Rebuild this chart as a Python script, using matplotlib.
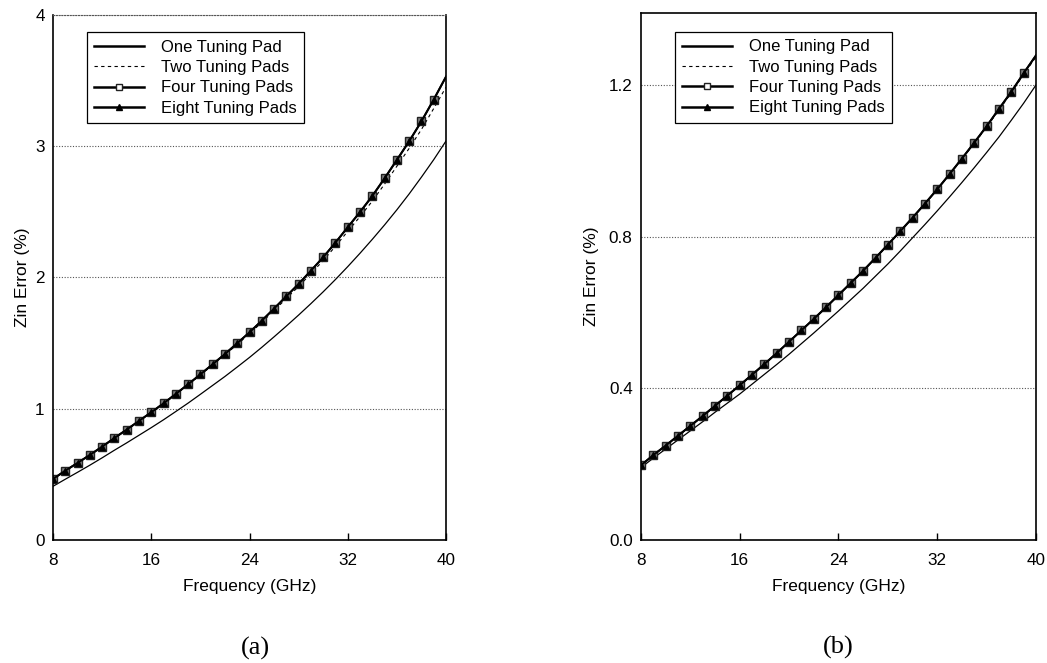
import matplotlib
matplotlib.use("Agg")
import matplotlib.pyplot as plt

plt.rcParams["font.family"] = ["Liberation Sans", "DejaVu Sans"]

FREQ = list(range(8, 41))  # GHz

# panel (a)
A_ONE = [0.409, 0.463, 0.516, 0.570, 0.626, 0.684, 0.740, 0.798, 0.856, 0.916,
         0.979, 1.043, 1.110, 1.178, 1.246, 1.318, 1.391, 1.468, 1.548, 1.630,
         1.714, 1.801, 1.891, 1.985, 2.083, 2.185, 2.291, 2.401, 2.516, 2.637,
         2.765, 2.898, 3.040]
A_TWO = [0.465, 0.528, 0.587, 0.648, 0.711, 0.777, 0.841, 0.906, 0.972, 1.039,
         1.110, 1.182, 1.257, 1.333, 1.410, 1.490, 1.571, 1.658, 1.748, 1.840,
         1.932, 2.030, 2.129, 2.238, 2.352, 2.464, 2.582, 2.712, 2.848, 2.984,
         3.128, 3.288, 3.450]
A_FOUR = [0.465, 0.528, 0.587, 0.648, 0.711, 0.777, 0.841, 0.907, 0.973, 1.041,
          1.113, 1.186, 1.262, 1.339, 1.417, 1.499, 1.582, 1.671, 1.763, 1.857,
          1.951, 2.052, 2.154, 2.266, 2.383, 2.499, 2.621, 2.756, 2.896, 3.038,
          3.190, 3.356, 3.530]
A_EIGHT = [0.465, 0.528, 0.587, 0.648, 0.711, 0.777, 0.841, 0.907, 0.973, 1.041,
           1.113, 1.186, 1.262, 1.339, 1.417, 1.499, 1.582, 1.671, 1.763, 1.857,
           1.951, 2.052, 2.154, 2.266, 2.383, 2.499, 2.621, 2.756, 2.896, 3.038,
           3.190, 3.356, 3.530]

# panel (b)
B_ONE = [0.191, 0.216, 0.240, 0.264, 0.288, 0.312, 0.337, 0.361, 0.385, 0.411,
         0.437, 0.463, 0.490, 0.518, 0.546, 0.575, 0.604, 0.634, 0.664, 0.696,
         0.728, 0.762, 0.797, 0.832, 0.868, 0.905, 0.943, 0.982, 1.022, 1.063,
         1.107, 1.152, 1.200]
B_TWO = [0.197, 0.224, 0.249, 0.275, 0.301, 0.327, 0.354, 0.381, 0.408, 0.436,
         0.464, 0.493, 0.523, 0.553, 0.583, 0.614, 0.646, 0.678, 0.710, 0.744,
         0.779, 0.814, 0.850, 0.887, 0.925, 0.964, 1.005, 1.046, 1.089, 1.134,
         1.179, 1.228, 1.274]
B_FOUR = [0.197, 0.224, 0.249, 0.275, 0.301, 0.327, 0.354, 0.381, 0.408, 0.436,
          0.464, 0.493, 0.523, 0.553, 0.583, 0.614, 0.646, 0.678, 0.710, 0.744,
          0.779, 0.814, 0.850, 0.887, 0.925, 0.965, 1.006, 1.048, 1.091, 1.137,
          1.182, 1.231, 1.278]
B_EIGHT = [0.197, 0.224, 0.249, 0.275, 0.301, 0.327, 0.354, 0.381, 0.408, 0.436,
           0.464, 0.493, 0.523, 0.553, 0.583, 0.614, 0.646, 0.678, 0.710, 0.744,
           0.779, 0.814, 0.850, 0.887, 0.925, 0.965, 1.006, 1.048, 1.091, 1.137,
           1.182, 1.231, 1.278]

LABELS = ["One Tuning Pad", "Two Tuning Pads", "Four Tuning Pads", "Eight Tuning Pads"]
X_TICKS = [8, 16, 24, 32, 40]
A_YTICKS = [0, 1, 2, 3, 4]
A_YTICKLABELS = ["0", "1", "2", "3", "4"]
B_YTICKS = [0.0, 0.4, 0.8, 1.2]
B_YTICKLABELS = ["0.0", "0.4", "0.8", "1.2"]


def draw_panel(ax, one, two, four, eight, yticks, yticklabels, ylim, legend_anchor,
               dotted_top, ylabel_x):
    ax.plot(FREQ, one, color="black", lw=0.9, label=LABELS[0])
    ax.plot(FREQ, two, color="black", lw=0.8, ls=(0, (3, 3)), label=LABELS[1])
    ax.plot(FREQ, four, color="black", lw=1.4, marker="s", ms=5.5,
            mfc="#808080", mec="#222222", mew=1.0, markevery=slice(0, -1), label=LABELS[2])
    ax.plot(FREQ, eight, color="black", lw=1.4, marker="^", ms=4.2,
            mfc="black", mec="black", markevery=slice(0, -1), label=LABELS[3])

    ax.set_xlim(8, 40)
    ax.set_ylim(*ylim)
    ax.set_xticks(X_TICKS)
    ax.set_yticks(yticks)
    ax.set_yticklabels(yticklabels)
    ax.grid(True, axis="y", linestyle=(0, (1, 1.5)), color="#555555", lw=0.8)
    ax.tick_params(axis="x", direction="in", length=5, width=1, pad=9, labelsize=12.3)
    ax.tick_params(axis="y", length=0, pad=6, labelsize=12.3)
    for side in ["left", "bottom", "right", "top"]:
        ax.spines[side].set_linewidth(1.2)
    if dotted_top:
        ax.spines["top"].set_linestyle((0, (1, 1.5)))
        ax.spines["top"].set_color("#555555")
        ax.spines["top"].set_linewidth(0.8)

    ax.set_xlabel("Frequency (GHz)", fontsize=12.5, labelpad=8)
    ax.set_ylabel("Zin Error (%)", fontsize=12.5)
    ax.yaxis.set_label_coords(ylabel_x, 0.5)

    leg = ax.legend(loc="upper left", bbox_to_anchor=legend_anchor, borderaxespad=0,
                    fontsize=12, handlelength=3.0, handletextpad=1.0,
                    labelspacing=0.32, borderpad=0.45, fancybox=False, framealpha=1)
    leg.get_frame().set_edgecolor("black")
    leg.get_frame().set_linewidth(0.9)
    handles = leg.legend_handles
    handles[0].set_linewidth(1.8)
    handles[2].set_linewidth(1.8)
    handles[2].set_markerfacecolor("white")
    handles[2].set_markersize(5)
    handles[3].set_linewidth(1.8)
    handles[3].set_markersize(4)


fig = plt.figure(figsize=(10.47, 6.63), dpi=100)
ax_a = fig.add_axes([0.0506, 0.1855, 0.3754, 0.7919])
ax_b = fig.add_axes([0.6122, 0.1855, 0.3773, 0.7950])

draw_panel(ax_a, A_ONE, A_TWO, A_FOUR, A_EIGHT, A_YTICKS, A_YTICKLABELS, (0, 4),
           (0.0865, 0.967), True, -0.059)
draw_panel(ax_b, B_ONE, B_TWO, B_FOUR, B_EIGHT, B_YTICKS, B_YTICKLABELS, (0, 1.39),
           (0.086, 0.964), False, -0.106)

fig.text(255 / 1047, 1 - 648 / 663, "(a)", family="Liberation Serif", fontsize=19,
         ha="center", va="center")
fig.text(838 / 1047, 1 - 647 / 663, "(b)", family="Liberation Serif", fontsize=19,
         ha="center", va="center")

fig.savefig("out.png", dpi=100)
